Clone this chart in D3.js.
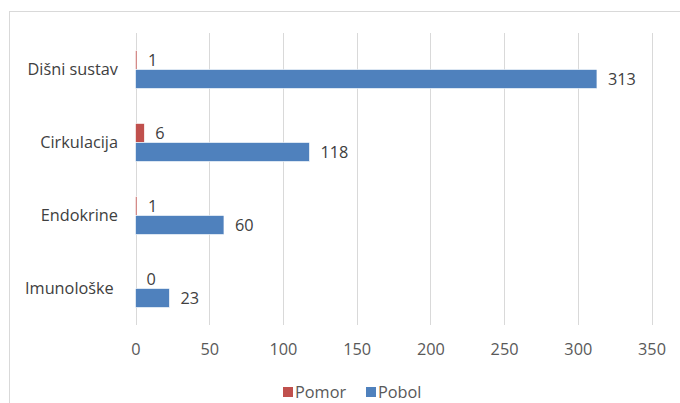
<!DOCTYPE html>
<html><head><meta charset="utf-8">
<script src="https://cdn.jsdelivr.net/npm/d3@7"></script>
<style>
html,body{margin:0;padding:0;background:#fff;}
svg{display:block;font-family:"Open Sans",sans-serif;}
</style></head>
<body>
<svg id="chart" width="680" height="403"></svg>
<script>
const categories = ["Dišni sustav", "Cirkulacija", "Endokrine", "Imunološke "];
const seriesNames = ["Pomor", "Pobol"];
const pomor = [1, 6, 1, 0];
const pobol = [313, 118, 60, 23];
const xTicks = [0, 50, 100, 150, 200, 250, 300, 350];
const colors = ["#c0504d", "#4f81bd"];
const FONT = "'Open Sans',sans-serif";
const FS = 16.3;

const svg = d3.select("#chart");
svg.append("rect").attr("x", 9.5).attr("y", 11.5).attr("width", 700).attr("height", 420)
  .attr("fill", "none").attr("stroke", "#d9d9d9").attr("stroke-width", 1);

const x = d3.scaleLinear().domain([0, 350]).range([135.5, 651.5]);
const y = d3.scaleBand().domain(categories).range([33, 325]).paddingInner(0).paddingOuter(0);
const inner = d3.scaleBand().domain(seriesNames).range([0, 38]);

svg.append("g").selectAll("line").data(xTicks).join("line")
  .attr("x1", d => Math.round(x(d)) + 0.5).attr("x2", d => Math.round(x(d)) + 0.5)
  .attr("y1", 33).attr("y2", 325).attr("stroke", "#d9d9d9").attr("stroke-width", 1);

const xAxis = d3.axisBottom(x).tickValues(xTicks).tickSize(0).tickPadding(0);
const gx = svg.append("g").attr("transform", "translate(0,349)").call(xAxis);
gx.select(".domain").remove();
gx.selectAll("text").attr("font-size", FS).attr("fill", "#595959").attr("font-family", FONT)
  .attr("dy", "0.36em");

const yAxis = d3.axisLeft(y).tickSize(0).tickPadding(0);
const gy = svg.append("g").attr("transform", "translate(118,0)").call(yAxis);
gy.select(".domain").remove();
gy.selectAll("text").attr("font-size", FS).attr("fill", "#404040")
  .attr("dy", "0.32em").style("white-space", "pre").attr("font-family", FONT);

const data = [];
categories.forEach((c, i) => {
  data.push({cat: c, s: "Pomor", v: pomor[i]});
  data.push({cat: c, s: "Pobol", v: pobol[i]});
});

const bandOffset = (y.bandwidth() - 38) / 2;
svg.append("g").selectAll("rect").data(data).join("rect")
  .attr("x", x(0))
  .attr("y", d => y(d.cat) + bandOffset + inner(d.s))
  .attr("width", d => x(d.v) - x(0))
  .attr("height", inner.bandwidth())
  .attr("fill", d => colors[seriesNames.indexOf(d.s)])
  .attr("stroke", "#fff").attr("stroke-width", 0.6);

svg.append("g").selectAll("text").data(data).join("text")
  .attr("x", d => x(d.v) + 11)
  .attr("y", d => y(d.cat) + bandOffset + inner(d.s) + inner.bandwidth() / 2)
  .attr("dy", "0.36em").attr("font-family", FONT)
  .attr("font-size", FS).attr("fill", "#404040")
  .text(d => d.v);

const legend = svg.append("g");
const legX = [283, 366];
seriesNames.forEach((s, i) => {
  legend.append("rect").attr("x", legX[i]).attr("y", 387).attr("width", 10).attr("height", 10).attr("fill", colors[i]);
  legend.append("text").attr("x", legX[i] + 12).attr("y", 392).attr("dy", "0.36em").attr("font-family", FONT)
    .attr("font-size", FS).attr("fill", "#595959").text(s);
});
</script>
</body></html>
